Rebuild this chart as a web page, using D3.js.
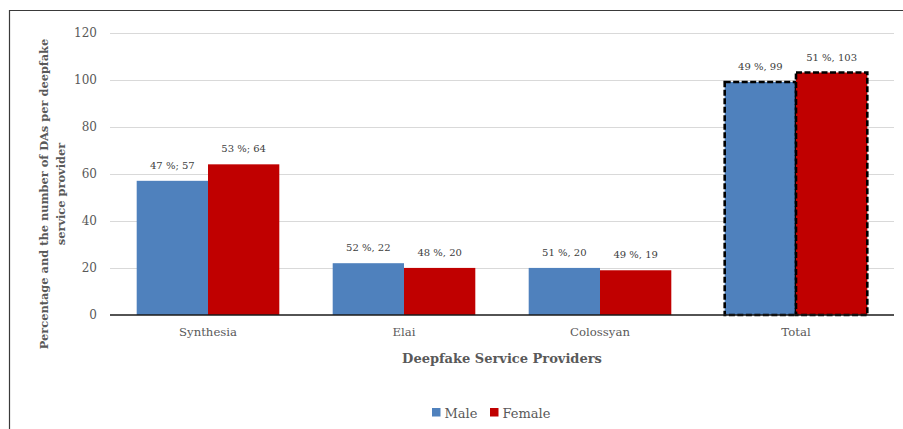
<!DOCTYPE html>
<html>
<head>
<meta charset="utf-8">
<script src="https://cdn.jsdelivr.net/npm/d3@7"></script>
<style>
  html, body { margin: 0; padding: 0; background: #fff; }
  svg { display: block; }
  text { font-family: "DejaVu Serif", serif; }
</style>
</head>
<body>
<svg id="chart" width="903" height="429"></svg>
<script>
const categories = ["Synthesia", "Elai", "Colossyan", "Total"];
const seriesNames = ["Male", "Female"];
const maleValues = [57, 22, 20, 99];
const femaleValues = [64, 20, 19, 103];
const maleLabels = ["47 %; 57", "52 %, 22", "51 %, 20", "49 %, 99"];
const femaleLabels = ["53 %; 64", "48 %, 20", "49 %, 19", "51 %, 103"];
const yTicks = [0, 20, 40, 60, 80, 100, 120];
const colors = { Male: "#4F81BD", Female: "#C00000" };

const svg = d3.select("#chart");
const W = 903, H = 429;
const plot = { left: 110, right: 894, top: 32.5, bottom: 315 };

// outer frame
svg.append("path")
  .attr("d", `M9.5,${H + 2} L9.5,10.5 L${W + 2},10.5`)
  .attr("fill", "none").attr("stroke", "#3a3a3a").attr("stroke-width", 1.2);

const y = d3.scaleLinear().domain([0, 120]).range([plot.bottom, plot.top]);
const x0 = d3.scaleBand().domain(categories).range([plot.left, plot.right])
  .paddingInner(0.2724).paddingOuter(0.1362);
const x1 = d3.scaleBand().domain(seriesNames).range([0, x0.bandwidth()]);

// gridlines
svg.append("g").selectAll("line").data(yTicks.filter(d => d > 0)).join("line")
  .attr("x1", plot.left).attr("x2", plot.right)
  .attr("y1", d => Math.round(y(d)) + 0.5).attr("y2", d => Math.round(y(d)) + 0.5)
  .attr("stroke", "#d9d9d9").attr("stroke-width", 1);

// y tick labels
const yAxis = d3.axisLeft(y).tickValues(yTicks).tickSize(0).tickPadding(13);
const yg = svg.append("g").attr("transform", `translate(${plot.left},0)`).call(yAxis);
yg.select(".domain").remove();
yg.selectAll("text").attr("fill", "#595959").style("font-size", "12px")
  .style("font-family", "DejaVu Serif, serif");

const data = categories.map((c, i) => ({
  cat: c,
  vals: [
    { s: "Male", v: maleValues[i], label: maleLabels[i] },
    { s: "Female", v: femaleValues[i], label: femaleLabels[i] }
  ]
}));

const groups = svg.append("g").selectAll("g").data(data).join("g")
  .attr("transform", d => `translate(${x0(d.cat)},0)`);

groups.selectAll("rect").data(d => d.vals.map(v => ({ ...v, cat: d.cat }))).join("rect")
  .attr("x", d => x1(d.s))
  .attr("y", d => y(d.v))
  .attr("width", x1.bandwidth())
  .attr("height", d => y(0) - y(d.v))
  .attr("fill", d => colors[d.s])
  .attr("stroke", d => d.cat === "Total" ? "#000" : "none")
  .attr("stroke-width", d => d.cat === "Total" ? 2.6 : 0)
  .attr("stroke-dasharray", d => d.cat === "Total" ? "6,2.5" : null);

groups.selectAll("text.lbl").data(d => d.vals).join("text")
  .attr("class", "lbl")
  .attr("x", d => x1(d.s) + x1.bandwidth() / 2)
  .attr("y", d => y(d.v) - 12)
  .attr("text-anchor", "middle")
  .attr("fill", "#404040")
  .style("font-size", "10px")
  .text(d => d.label);

// x axis baseline
svg.append("line")
  .attr("x1", plot.left).attr("x2", plot.right)
  .attr("y1", y(0)).attr("y2", y(0))
  .attr("stroke", "#1a1a1a").attr("stroke-width", 1.4);

// x axis labels
const xAxis = d3.axisBottom(x0).tickSize(0).tickPadding(13);
const xg = svg.append("g").attr("transform", `translate(0,${y(0)})`).call(xAxis);
xg.select(".domain").remove();
xg.selectAll("text").attr("fill", "#595959").style("font-size", "11.7px")
  .style("font-family", "DejaVu Serif, serif");

// x title
svg.append("text")
  .attr("x", (plot.left + plot.right) / 2).attr("y", 362.5)
  .attr("text-anchor", "middle").attr("fill", "#595959")
  .style("font-size", "13px").style("font-weight", "bold")
  .text("Deepfake Service Providers");

// y title
const yt = svg.append("text")
  .attr("transform", `translate(0,194) rotate(-90)`)
  .attr("text-anchor", "middle").attr("fill", "#595959")
  .style("font-size", "11.4px").style("font-weight", "bold");
yt.append("tspan").attr("x", 0).attr("y", 48).text("Percentage and the number of DAs per deepfake");
yt.append("tspan").attr("x", 0).attr("y", 64.5).text("service provider");

// legend
const legend = svg.append("g");
const legendItems = [{ s: "Male", x: 432 }, { s: "Female", x: 490 }];
seriesNames.forEach((s, i) => {
  const lx = legendItems[i].x;
  legend.append("rect").attr("x", lx).attr("y", 408).attr("width", 8.5).attr("height", 8.5)
    .attr("fill", colors[s]);
  legend.append("text").attr("x", lx + 12.5).attr("y", 417.5)
    .attr("fill", "#595959").style("font-size", "13px").text(s);
});
</script>
</body>
</html>
